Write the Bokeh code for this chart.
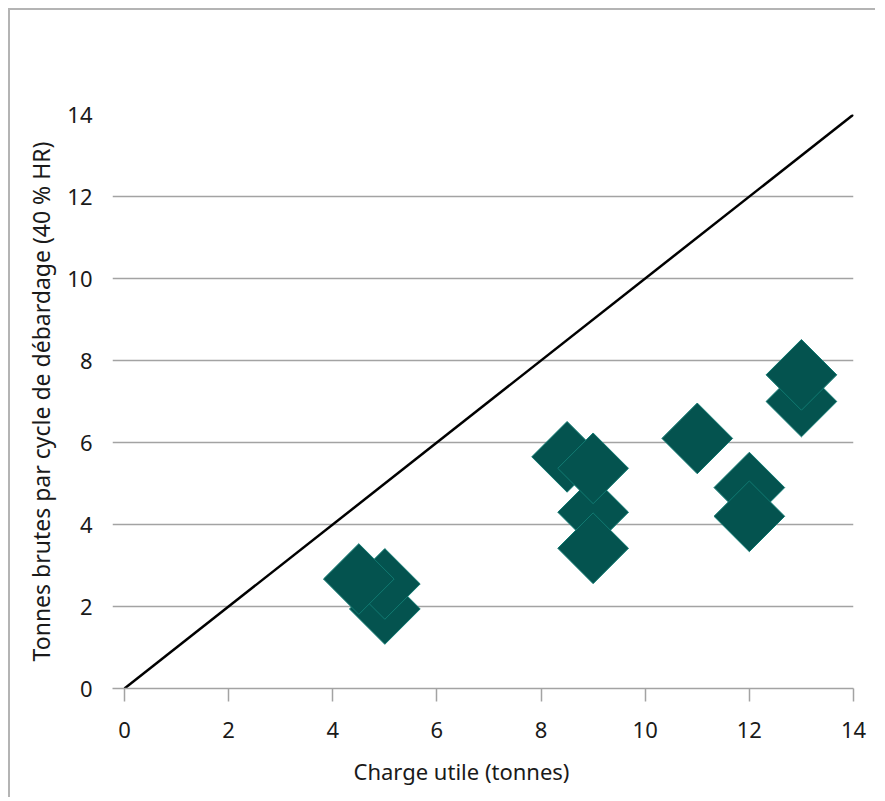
import numpy as np
from bokeh.plotting import figure
from bokeh.models import FixedTicker, Title, ColumnDataSource
from bokeh.embed import file_html
from bokeh.resources import INLINE

# Data (drawing order matters for overlap)
payload_t = [5, 5, 4.5, 8.5, 9, 9, 9, 11, 12, 12, 13, 13]
gross_t = [1.94, 2.55, 2.67, 5.65, 4.3, 5.37, 3.42, 6.1, 4.9, 4.2, 7.0, 7.65]
ref_x = [0, 14]
ref_y = [0, 14]
ticks = [0, 2, 4, 6, 8, 10, 12, 14]

FONT = "Noto Sans"

p = figure(width=867, height=789, x_range=(-0.23, 14), y_range=(0, 14),
           output_backend="svg", toolbar_location=None,
           min_border_left=102, min_border_right=24, min_border_top=104, min_border_bottom=104)
p.background_fill_color = "white"
p.border_fill_color = "white"
p.outline_line_color = None
p.styles = {"margin-left": "8px", "margin-top": "8px",
            "border-left": "2px solid #b4b4b4", "border-top": "2px solid #b4b4b4"}

p.line(ref_x, ref_y, line_color="black", line_width=2.5)
src = ColumnDataSource(dict(x=payload_t, y=gross_t))
p.scatter("x", "y", source=src, marker="square", size=50, angle=np.pi / 4,
          fill_color="#04534f", line_color="#127a72", line_width=1)

# grids
p.xgrid.grid_line_color = None
p.ygrid.ticker = FixedTicker(ticks=ticks)
p.ygrid.grid_line_color = "#a3a3a3"
p.ygrid.grid_line_width = 1.5

# x axis
xa = p.xaxis[0]
xa.ticker = FixedTicker(ticks=ticks)
xa.axis_line_color = "#a3a3a3"
xa.axis_line_width = 1.5
xa.major_tick_line_color = "#a3a3a3"
xa.major_tick_line_width = 1.5
xa.major_tick_out = 13
xa.major_tick_in = 0
xa.minor_tick_line_color = None
xa.major_label_text_font = FONT
xa.major_label_text_font_size = "22px"
xa.major_label_text_color = "#1a1a1a"
xa.major_label_standoff = 20

# y axis
ya = p.yaxis[0]
ya.ticker = FixedTicker(ticks=ticks)
ya.axis_line_color = None
ya.major_tick_line_color = None
ya.minor_tick_line_color = None
ya.major_tick_out = 0
ya.major_tick_in = 0
ya.major_label_text_font = FONT
ya.major_label_text_font_size = "22px"
ya.major_label_text_color = "#1a1a1a"
ya.major_label_standoff = 20
ya.axis_label = "Tonnes brutes par cycle de débardage (40 % HR)"
ya.axis_label_text_font = FONT
ya.axis_label_text_font_size = "23px"
ya.axis_label_text_font_style = "normal"
ya.axis_label_text_color = "#1a1a1a"
ya.axis_label_standoff = 7

xtitle = Title(text="Charge utile (tonnes)", align="left", offset=241,
               text_font=FONT, text_font_size="22px", text_font_style="normal",
               text_color="#1a1a1a", standoff=27)
p.add_layout(xtitle, "below")

open("out.html", "w").write(file_html(p, INLINE))
